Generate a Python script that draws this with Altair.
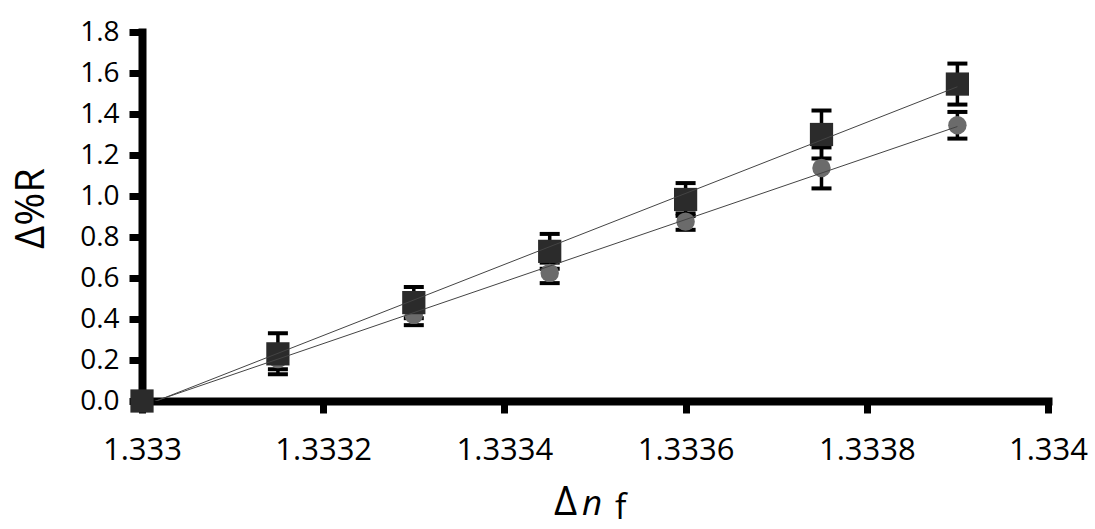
import altair as alt
import pandas as pd

# Refractive index of the film (x) and change in reflectance (y)
n_f = [1.333, 1.33315, 1.3333, 1.33345, 1.3336, 1.33375, 1.3339]

# Series A (squares) and series B (circles), with their standard deviations
r_square = [0.0, 0.23, 0.48, 0.73, 0.983, 1.30, 1.546]
err_square = [0.0, 0.10, 0.076, 0.085, 0.08, 0.117, 0.10]
r_circle = [0.0, 0.205, 0.42, 0.625, 0.875, 1.137, 1.345]
err_circle = [0.0, 0.05, 0.05, 0.05, 0.04, 0.10, 0.065]

x_ticks = [1.333, 1.3332, 1.3334, 1.3336, 1.3338, 1.334]
y_ticks = [0.0, 0.2, 0.4, 0.6, 0.8, 1.0, 1.2, 1.4, 1.6, 1.8]

rows = []
for xv, yv, ev in zip(n_f, r_square, err_square):
    rows.append({"series": "square", "x": xv, "y": yv, "err": ev})
for xv, yv, ev in zip(n_f, r_circle, err_circle):
    rows.append({"series": "circle", "x": xv, "y": yv, "err": ev})
df = pd.DataFrame(rows)

W, H = 906, 369
FONT = "Open Sans"

x_enc = alt.X(
    "x:Q",
    scale=alt.Scale(domain=[1.333, 1.334], nice=False, zero=False),
    axis=alt.Axis(
        values=x_ticks, format=".4~f", title=None, grid=False,
        domainColor="black", domainWidth=8, domainCap="square",
        tickColor="black", tickWidth=7, tickSize=12, tickCap="butt",
        labelFont=FONT, labelFontSize=31, labelColor="black", labelPadding=22,
        labelFlush=False, labelOverlap=False,
    ),
)
y_enc = alt.Y(
    "y:Q",
    scale=alt.Scale(domain=[0, 1.8], nice=False),
    axis=alt.Axis(
        values=y_ticks, format=".1f", title="Δ%R", grid=False,
        domainColor="black", domainWidth=8, domainCap="square",
        tickColor="black", tickWidth=7, tickSize=13, tickCap="butt",
        labelFont=FONT, labelFontSize=28, labelColor="black", labelPadding=10,
        labelFlush=False, labelOverlap=False,
        titleFont=FONT, titleFontSize=40, titleFontWeight="normal",
        titleColor="black", titleAngle=270, titleAlign="center",
        titleBaseline="alphabetic", titleX=-99, titleY=176,
    ),
)

base = alt.Chart(df)

with_err = base.transform_filter("datum.err > 0").transform_calculate(
    lo="datum.y - datum.err", hi="datum.y + datum.err"
)

err_rule = with_err.mark_rule(color="black", strokeWidth=3.5).encode(
    x=x_enc, y=alt.Y("lo:Q"), y2="hi:Q"
)
cap_lo = with_err.mark_tick(
    color="black", orient="horizontal", size=20, thickness=4, opacity=1
).encode(x=x_enc, y=alt.Y("lo:Q"))
cap_hi = with_err.mark_tick(
    color="black", orient="horizontal", size=20, thickness=4, opacity=1
).encode(x=x_enc, y=alt.Y("hi:Q"))

circles = base.transform_filter("datum.series == 'circle'").mark_circle(
    color="#6b6b6b", size=340, opacity=1
).encode(x=x_enc, y=y_enc)

squares = base.transform_filter("datum.series == 'square'").mark_square(
    color="#2b2b2b", size=540, opacity=1
).encode(x=x_enc, y=y_enc)

fits = base.transform_regression(
    "x", "y", groupby=["series"], method="linear"
).mark_line(color="#444444", strokeWidth=1, clip=True).encode(
    x=x_enc, y=y_enc, detail="series:N"
)

# x-axis title: Δ, italic n, subscript f
t_delta = alt.Chart(pd.DataFrame({"s": ["Δ"]})).mark_text(
    font=FONT, fontSize=40, align="left", baseline="alphabetic", color="black"
).encode(text="s:N", x=alt.value(412), y=alt.value(483))
t_n = alt.Chart(pd.DataFrame({"s": ["n"]})).mark_text(
    font=FONT, fontSize=35, fontStyle="italic", align="left",
    baseline="alphabetic", color="black"
).encode(text="s:N", x=alt.value(440), y=alt.value(483))
t_f = alt.Chart(pd.DataFrame({"s": ["f"]})).mark_text(
    font=FONT, fontSize=34, align="left", baseline="alphabetic", color="black"
).encode(text="s:N", x=alt.value(473), y=alt.value(487))

chart = alt.layer(
    err_rule, cap_lo, cap_hi, circles, squares, fits, t_delta, t_n, t_f
).properties(
    width=W, height=H,
    autosize=alt.AutoSizeParams(type="none"),
    padding={"left": 142, "top": 32, "right": 47, "bottom": 128},
    background="white",
).configure_view(strokeWidth=0)

chart.save("out.html", embed_options={"renderer": "svg", "actions": False})
